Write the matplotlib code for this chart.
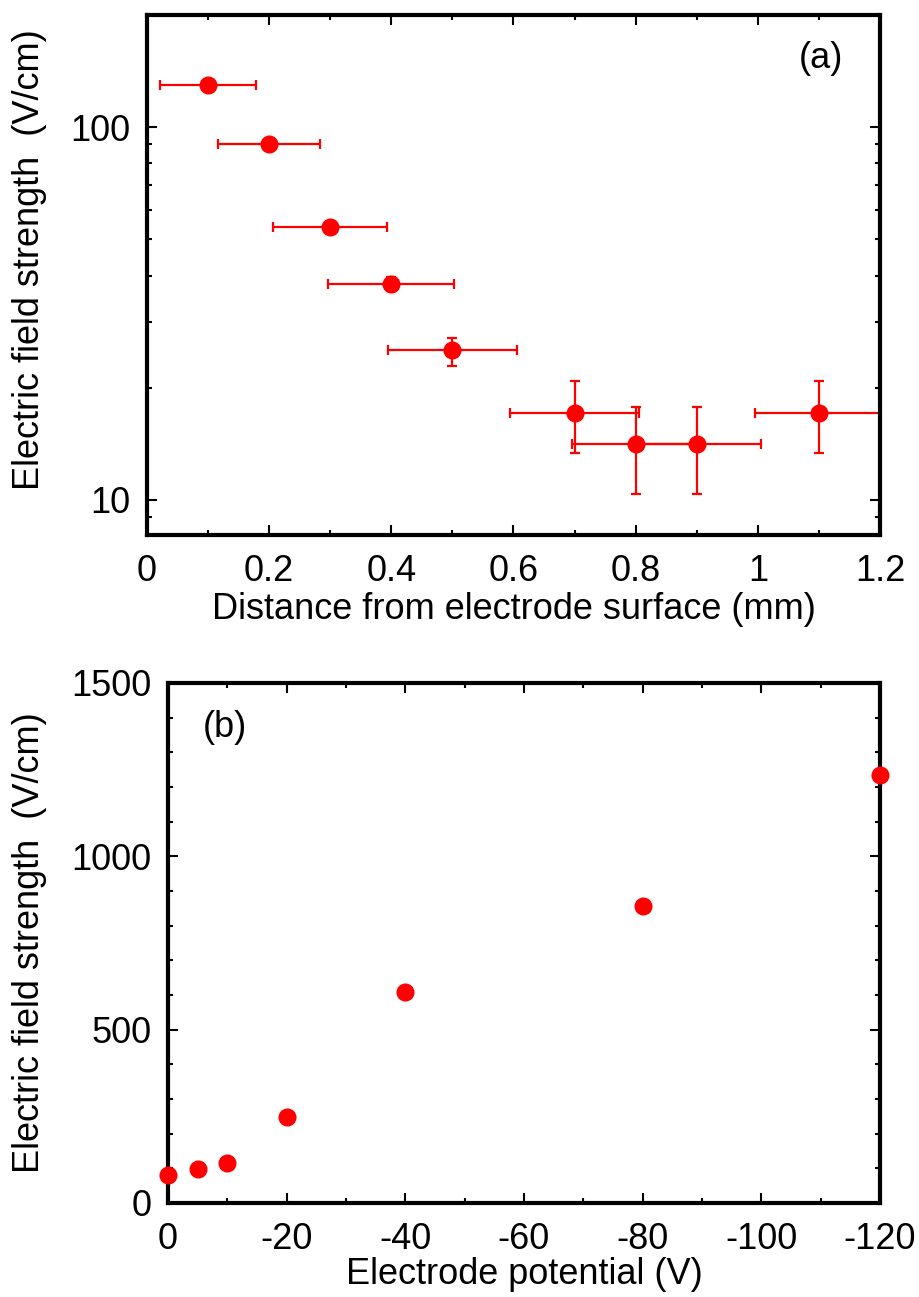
import numpy as np
import matplotlib
matplotlib.use("Agg")
import matplotlib.pyplot as plt
import matplotlib.transforms as mtransforms
from matplotlib.ticker import MultipleLocator, LogLocator, FixedLocator, NullFormatter

# =========================================================
# DATA
# =========================================================
# (a) field strength vs distance from electrode surface
dist_mm = [0.1, 0.2, 0.3, 0.4, 0.5, 0.7, 0.8, 0.9, 1.1]
field_a = [130, 90, 54, 38, 25.2, 17.1, 14.1, 14.1, 17.1]
field_a_err_lo = [0, 0, 0, 1.6, 2.3, 3.7, 3.7, 3.7, 3.7]
field_a_err_hi = [0, 0, 0, 1.6, 2.0, 3.7, 3.7, 3.7, 3.7]
dist_err = [0.078, 0.083, 0.093, 0.103, 0.106, 0.105, 0.105, 0.105, 0.105]

# (b) field strength vs electrode potential
potential_v = [0, -5, -10, -20, -40, -80, -120]
field_b = [82, 97, 115, 247, 609, 857, 1236]

# =========================================================
# STYLE
# =========================================================
plt.rcParams.update({
    "font.family": ["Liberation Sans", "DejaVu Sans"],
    "font.size": 26,
    "axes.unicode_minus": False,
    "axes.linewidth": 3.0,
    "xtick.direction": "in",
    "ytick.direction": "in",
    "xtick.top": True,
    "ytick.right": True,
    "xtick.major.size": 7,
    "ytick.major.size": 7,
    "xtick.minor.size": 3.5,
    "ytick.minor.size": 3.5,
    "xtick.major.width": 1.5,
    "ytick.major.width": 1.5,
    "xtick.minor.width": 1.5,
    "ytick.minor.width": 1.5,
    "xtick.major.pad": 14,
    "ytick.major.pad": 12,
})

RED = "#ff0000"
W, H = 920, 1297

fig = plt.figure(figsize=(W / 100, H / 100), dpi=100)

def px_axes(left, top, right, bottom):
    return fig.add_axes([left / W, 1 - bottom / H, (right - left) / W, (bottom - top) / H])

# =========================================================
# PANEL (a)
# =========================================================
ax1 = px_axes(147, 15, 880, 535)

ax1.errorbar(
    dist_mm, field_a,
    xerr=dist_err,
    yerr=[field_a_err_lo, field_a_err_hi],
    fmt="o",
    color=RED,
    markersize=12,
    elinewidth=1.6,
    capsize=3.5,
    capthick=1.6,
)

ax1.set_yscale("log")
ax1.set_xlim(0, 1.2)
ax1.set_ylim(8.05, 200)
ax1.xaxis.set_major_locator(FixedLocator([0, 0.2, 0.4, 0.6, 0.8, 1.0, 1.2]))
ax1.xaxis.set_minor_locator(MultipleLocator(0.1))
ax1.set_xticklabels(["0", "0.2", "0.4", "0.6", "0.8", "1", "1.2"])
ax1.yaxis.set_major_locator(FixedLocator([10, 100]))
ax1.yaxis.set_minor_locator(LogLocator(base=10, subs=np.arange(2, 10)))
ax1.yaxis.set_minor_formatter(NullFormatter())
ax1.set_yticklabels(["10", "100"])

ax1.set_xlabel("Distance from electrode surface (mm)", labelpad=2)
ax1.set_ylabel("Electric field strength  (V/cm)")
ax1.yaxis.set_label_coords(
    47 / W, 0.53,
    transform=mtransforms.blended_transform_factory(fig.transFigure, ax1.transAxes),
)
ax1.text(0.919, 0.917, "(a)", transform=ax1.transAxes, ha="center", va="center")

# =========================================================
# PANEL (b)
# =========================================================
ax2 = px_axes(168, 683, 880, 1203)

ax2.plot(potential_v, field_b, "o", color=RED, markersize=12, clip_on=False, zorder=5)

ax2.set_xlim(0, -120)
ax2.set_ylim(0, 1500)
ax2.xaxis.set_major_locator(MultipleLocator(20))
ax2.xaxis.set_minor_locator(MultipleLocator(10))
ax2.yaxis.set_major_locator(MultipleLocator(500))
ax2.yaxis.set_minor_locator(MultipleLocator(100))

ax2.set_xlabel("Electrode potential (V)", labelpad=0)
ax2.set_ylabel("Electric field strength  (V/cm)")
ax2.yaxis.set_label_coords(
    47 / W, 0.5,
    transform=mtransforms.blended_transform_factory(fig.transFigure, ax2.transAxes),
)
ax2.text(0.08, 0.915, "(b)", transform=ax2.transAxes, ha="center", va="center")

fig.savefig("out.png", dpi=100)
